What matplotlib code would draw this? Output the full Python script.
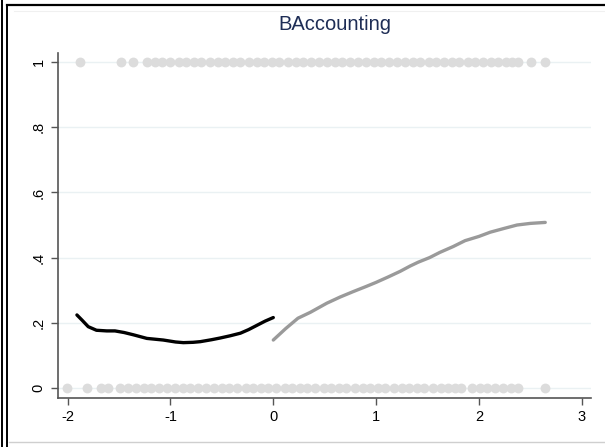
import matplotlib
matplotlib.use('Agg')
import matplotlib.pyplot as plt
from matplotlib.lines import Line2D

plt.rcParams['font.family'] = ['Liberation Sans', 'DejaVu Sans']

title = 'BAccounting'

# observed outcomes (0/1) by running variable
x_zero = [-2.01, -1.81, -1.68, -1.61,
          -1.49, -1.41, -1.34, -1.26, -1.19, -1.11, -1.03, -0.96, -0.88, -0.81,
          -0.73, -0.65, -0.58, -0.50, -0.43, -0.35, -0.27, -0.20, -0.12, -0.05,
          0.03, 0.11, 0.18, 0.26, 0.33, 0.41, 0.49, 0.56, 0.64, 0.71, 0.79,
          0.87, 0.94, 1.02, 1.09, 1.17, 1.25, 1.32, 1.40, 1.47, 1.55, 1.63,
          1.70, 1.77, 1.83,
          1.93, 2.01, 2.08, 2.16, 2.23, 2.31, 2.38,
          2.64]
x_one = [-1.88, -1.48, -1.36,
         -1.23, -1.15, -1.08, -1.00, -0.92, -0.85, -0.77, -0.70, -0.62, -0.54,
         -0.47, -0.39, -0.32, -0.24, -0.16, -0.09, -0.01, 0.06, 0.14, 0.22,
         0.29, 0.37, 0.44, 0.52, 0.60, 0.67, 0.75, 0.82, 0.90, 0.98, 1.05,
         1.13, 1.20, 1.28, 1.36, 1.43, 1.51, 1.58, 1.66, 1.74, 1.81, 1.89,
         1.96, 2.04, 2.12, 2.19, 2.26, 2.32, 2.38,
         2.51, 2.64]

# lowess fit, left of cutoff
left_x = [-1.91, -1.86, -1.80, -1.72, -1.62, -1.54, -1.45, -1.36, -1.23, -1.07,
          -0.95, -0.875, -0.78, -0.71, -0.60, -0.52, -0.42, -0.32, -0.24, -0.16, -0.08, 0.0]
left_y = [0.224, 0.208, 0.188, 0.177, 0.175, 0.175, 0.170, 0.163, 0.152, 0.147,
          0.141, 0.139, 0.140, 0.142, 0.148, 0.153, 0.160, 0.168, 0.179, 0.192, 0.205, 0.216]

# lowess fit, right of cutoff
right_x = [0.0, 0.12, 0.24, 0.36, 0.52, 0.65, 0.78, 0.90, 1.0, 1.12, 1.235, 1.33,
           1.41, 1.52, 1.62, 1.75, 1.865, 2.0, 2.11, 2.25, 2.37, 2.50, 2.645]
right_y = [0.147, 0.182, 0.214, 0.232, 0.260, 0.279, 0.296, 0.311, 0.324, 0.341, 0.358, 0.374,
           0.386, 0.400, 0.416, 0.434, 0.452, 0.465, 0.478, 0.490, 0.500, 0.505, 0.508]

yticks = [0, 0.2, 0.4, 0.6, 0.8, 1]
ytick_labels = ['0', '.2', '.4', '.6', '.8', '1']
xticks = [-2, -1, 0, 1, 2, 3]

fig = plt.figure(figsize=(6.05, 4.47), dpi=100)
ax = fig.add_axes([58 / 605, 1 - 397.7 / 447, 533 / 605, 344.7 / 447])

for yv in yticks:
    ax.axhline(yv, color='#eaf1f3', lw=1.0, zorder=0)

ax.scatter(x_zero, [0] * len(x_zero), s=50, color='#dcdcdc', linewidths=0, zorder=2)
ax.scatter(x_one, [1] * len(x_one), s=50, color='#dcdcdc', linewidths=0, zorder=2)

ax.plot(left_x, left_y, color='black', lw=2.4, solid_capstyle='round', zorder=3)
ax.plot(right_x, right_y, color='#9a9a9a', lw=2.4, solid_capstyle='round', zorder=3)

ax.set_xlim(-2.094, 3.09)
ax.set_ylim(-0.03, 1.028)
ax.set_xticks(xticks)
ax.set_xticklabels([str(v) for v in xticks])
ax.set_yticks(yticks)
ax.set_yticklabels(ytick_labels, rotation=90, va='center')

for side in ['top', 'right']:
    ax.spines[side].set_visible(False)
for side in ['left', 'bottom']:
    ax.spines[side].set_color('#555555')
    ax.spines[side].set_linewidth(1.2)
ax.tick_params(axis='both', colors='#555555', labelcolor='black', length=5,
               width=1.0, labelsize=10.5)
ax.tick_params(axis='x', pad=4)
ax.tick_params(axis='y', pad=4)

fig.text(335 / 605, 1 - 25 / 447, title, ha='center', va='center',
         fontsize=14.5, color='#1e2d55')

# outer frame lines from the combined graph
W, H = 605.0, 447.0
frame = [
    ([1.7 / W, 1.7 / W], [0, 1], 'black', 1.4),
    ([7.2 / W, 7.2 / W], [0, 1 - 4.5 / H], 'black', 1.4),
    ([7.2 / W, 1], [1 - 4.5 / H, 1 - 4.5 / H], 'black', 1.6),
    ([14 / W, 1], [1 - 11 / H, 1 - 11 / H], '#f0f0f0', 0.8),
    ([9 / W, 1], [1 - 441.5 / H, 1 - 441.5 / H], '#cfcfcf', 1.0),
]
for xs, ys, c, lw in frame:
    fig.add_artist(Line2D(xs, ys, transform=fig.transFigure, color=c, lw=lw))

fig.savefig('out.png', dpi=100, facecolor='white')
